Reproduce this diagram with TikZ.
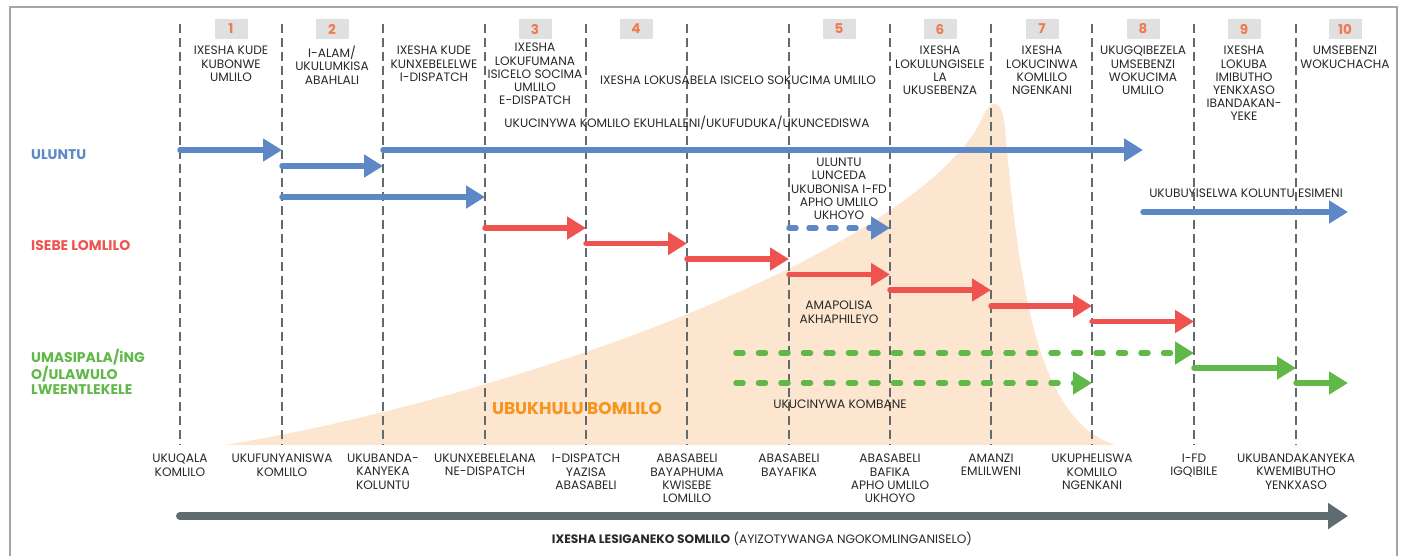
\documentclass[tikz,border=0pt]{standalone}
\usepackage{fontspec}
\setmainfont{Poppins}
\usetikzlibrary{arrows.meta,positioning}

\definecolor{ulblue}{RGB}{94,135,198}
\definecolor{isered}{RGB}{239,83,80}
\definecolor{umgreen}{RGB}{96,184,72}
\definecolor{firepeach}{RGB}{252,230,207}
\definecolor{fireorange}{RGB}{247,148,29}
\definecolor{linegray}{RGB}{95,107,110}
\definecolor{numgray}{RGB}{224,224,224}
\definecolor{numorange}{RGB}{241,122,78}
\definecolor{framegray}{RGB}{165,165,165}
\definecolor{textdark}{RGB}{40,40,40}

\begin{document}
\begin{tikzpicture}[x=1pt,y=-1pt]
%% styles
\tikzstyle{divider}=[draw=linegray,line width=1.5pt,dash pattern=on 9pt off 5pt]
\tikzstyle{numbox}=[fill=numgray,minimum width=33pt,minimum height=20pt,inner sep=0pt,text=numorange,font=\fontsize{13.5}{13.5}\selectfont\bfseries]
\tikzstyle{head}=[anchor=north,align=center,inner sep=0pt,text=textdark,font=\fontsize{12.2}{13.2}\selectfont]
\tikzstyle{note}=[align=center,inner sep=0pt,text=textdark,font=\fontsize{12.2}{13.2}\selectfont]
\tikzstyle{actor}=[anchor=west,align=left,inner sep=0pt,font=\fontsize{14}{15.5}\selectfont\bfseries]
\tikzstyle{bluearrow}=[draw=ulblue,line width=5.5pt,line cap=round,-{Triangle[length=19pt,width=22pt]}]
\tikzstyle{redarrow}=[draw=isered,line width=5.5pt,line cap=round,-{Triangle[length=19pt,width=22pt]}]
\tikzstyle{greenarrow}=[draw=umgreen,line width=5.5pt,line cap=round,-{Triangle[length=19pt,width=22pt]}]
\tikzstyle{timearrow}=[draw=linegray,line width=8pt,line cap=round,-{Triangle[length=20pt,width=25pt]}]

\useasboundingbox (0,0) rectangle (1402,555);

%% frame
\draw[framegray,line width=2pt] (10,560) -- (10,7) -- (1397,7) -- (1397,560);

%% fire size
\fill[firepeach] (225,445) .. controls (500,400) and (900,260) .. (979,125)
  .. controls (989,100) and (1001,92) .. (1005,128)
  .. controls (1020,300) and (1040,420) .. (1115,445) -- cycle;
\node[text=fireorange,inner sep=0pt,font=\fontsize{17}{17}\selectfont\bfseries] (firesize) at (577,408) {UBUKHULU BOMLILO};

%% dividers
\foreach \x [count=\i] in {180,282,383,485,586,687,789,890,991,1092,1194,1296}{
  \coordinate (top\i) at (\x,24);
  \coordinate (bot\i) at (\x,445);
  \draw[divider] (top\i) -- (bot\i);
}

%%%%%%%%%%%%%%%%%%%%%%%%%%%%%%%%%%%%%%%%%%%%%%%%%%%%%%%%%%%%%%%%%%%%%%%%
%% stages
\node[numbox] (n1) at (231,29) {1};
\node[numbox] (n2) at (332,29) {2};
\node[numbox] (n3) at (535,29) {3};
\node[numbox] (n4) at (636,29) {4};
\node[numbox] (n5) at (839,29) {5};
\node[numbox] (n6) at (940,29) {6};
\node[numbox] (n7) at (1042,29) {7};
\node[numbox] (n8) at (1143,29) {8};
\node[numbox] (n9) at (1244,29) {9};
\node[numbox] (n10) at (1345,29) {10};

\node[head] (h1) at (231,46) {IXESHA KUDE\\KUBONWE\\UMLILO};
\node[head] (h2) at (332,46) {I-ALAM/\\UKULUMKISA\\ABAHLALI};
\node[head] (h2b) at (434,46) {IXESHA KUDE\\KUNXEBELELWE\\I-DISPATCH};
\node[head] (h3) at (535,43) {IXESHA\\LOKUFUMANA\\ISICELO SOCIMA\\UMLILO\\E-DISPATCH};
\node[note] (h4) at (738,80) {IXESHA LOKUSABELA ISICELO SOKUCIMA UMLILO};
\node[note] (h45) at (687,123) {UKUCINYWA KOMLILO EKUHLALENI/UKUFUDUKA/UKUNCEDISWA};
\node[head] (h6) at (940,46) {IXESHA\\LOKULUNGISELE\\LA\\UKUSEBENZA};
\node[head] (h7) at (1042,46) {IXESHA\\LOKUCINWA\\KOMLILO\\NGENKANI};
\node[head] (h8) at (1143,46) {UKUGQIBEZELA\\UMSEBENZI\\WOKUCIMA\\UMLILO};
\node[head] (h9) at (1244,46) {IXESHA\\LOKUBA\\IMIBUTHO\\YENKXASO\\IBANDAKAN-\\YEKE};
\node[head] (h10) at (1345,46) {UMSEBENZI\\WOKUCHACHA};

%%%%%%%%%%%%%%%%%%%%%%%%%%%%%%%%%%%%%%%%%%%%%%%%%%%%%%%%%%%%%%%%%%%%%%%%
%% actors
\node[actor,text=ulblue] (community) at (31,155) {ULUNTU};
\node[actor,text=isered] (firedept) at (31,246) {ISEBE LOMLILO};
\node[actor,text=umgreen] (municipal) at (31,372) {UMASIPALA/iNG\\O/ULAWULO\\LWEENTLEKELE};

%% notes
\node[head] (helpnote) at (839,158) {ULUNTU\\LUNCEDA\\UKUBONISA I-FD\\APHO UMLILO\\UKHOYO};
\node[head] (police) at (839,301) {AMAPOLISA\\AKHAPHILEYO};
\node[note] (lightning) at (840,404) {UKUCINYWA KOMBANE};
\node[note] (return) at (1246,193) {UKUBUYISELWA KOLUNTU ESIMENI};

%%%%%%%%%%%%%%%%%%%%%%%%%%%%%%%%%%%%%%%%%%%%%%%%%%%%%%%%%%%%%%%%%%%%%%%%
%ARROWS
% community
\coordinate (u1) at (180,150);
\coordinate (u2) at (282,150);
\coordinate (u3) at (282,166);
\coordinate (u4) at (383,166);
\coordinate (u5) at (383,150);
\coordinate (u6) at (1143,150);
\coordinate (u7) at (282,197);
\coordinate (u8) at (485,197);
\coordinate (u9) at (789,228);
\coordinate (u10) at (890,228);
\coordinate (u11) at (1143,212);
\coordinate (u12) at (1348,212);
\draw[bluearrow] (u1) -- (u2);
\draw[bluearrow] (u3) -- (u4);
\draw[bluearrow] (u5) -- (u6);
\draw[bluearrow] (u7) -- (u8);
\draw[bluearrow,dash pattern=on 7pt off 13pt] (u9) -- (u10);
\draw[bluearrow] (u11) -- (u12);

% fire department
\foreach \xa/\xb/\y [count=\k] in {485/586/228,586/687/243.5,687/789/259,789/890/274.5,890/991/290,991/1092/306,1092/1194/321.5}{
  \coordinate (rs\k) at (\xa,\y);
  \coordinate (re\k) at (\xb,\y);
  \draw[redarrow] (rs\k) -- (re\k);
}

% municipality
\coordinate (g1) at (736,353);
\coordinate (g2) at (1194,353);
\coordinate (g3) at (736,383);
\coordinate (g4) at (1092,383);
\coordinate (g5) at (1194,368);
\coordinate (g6) at (1296,368);
\coordinate (g7) at (1296,383);
\coordinate (g8) at (1348,383);
\draw[greenarrow,dash pattern=on 7pt off 15.5pt] (g1) -- (g2);
\draw[greenarrow,dash pattern=on 7pt off 15.5pt] (g3) -- (g4);
\draw[greenarrow] (g5) -- (g6);
\draw[greenarrow] (g7) -- (g8);

%%%%%%%%%%%%%%%%%%%%%%%%%%%%%%%%%%%%%%%%%%%%%%%%%%%%%%%%%%%%%%%%%%%%%%%%
%% events
\node[head] (b1) at (180,454) {UKUQALA\\KOMLILO};
\node[head] (b2) at (282,454) {UKUFUNYANISWA\\KOMLILO};
\node[head] (b3) at (383,454) {UKUBANDA-\\KANYEKA\\KOLUNTU};
\node[head] (b4) at (485,454) {UKUNXEBELELANA\\NE-DISPATCH};
\node[head] (b5) at (586,454) {I-DISPATCH\\YAZISA\\ABASABELI};
\node[head] (b6) at (687,454) {ABASABELI\\BAYAPHUMA\\KWISEBE\\LOMLILO};
\node[head] (b7) at (789,454) {ABASABELI\\BAYAFIKA};
\node[head] (b8) at (890,454) {ABASABELI\\BAFIKA\\APHO UMLILO\\UKHOYO};
\node[head] (b9) at (991,454) {AMANZI\\EMLILWENI};
\node[head] (b10) at (1092,454) {UKUPHELISWA\\KOMLILO\\NGENKANI};
\node[head] (b11) at (1194,454) {I-FD\\IGQIBILE};
\node[head] (b12) at (1296,454) {UKUBANDAKANYEKA\\KWEMIBUTHO\\YENKXASO};

% time axis
\coordinate (tstart) at (180,516);
\coordinate (tend) at (1348,516);
\draw[timearrow] (tstart) -- (tend);
\node[note] (title) at (762,539) {{\bfseries IXESHA LESIGANEKO SOMLILO} (AYIZOTYWANGA NGOKOMLINGANISELO)};
\end{tikzpicture}
\end{document}
